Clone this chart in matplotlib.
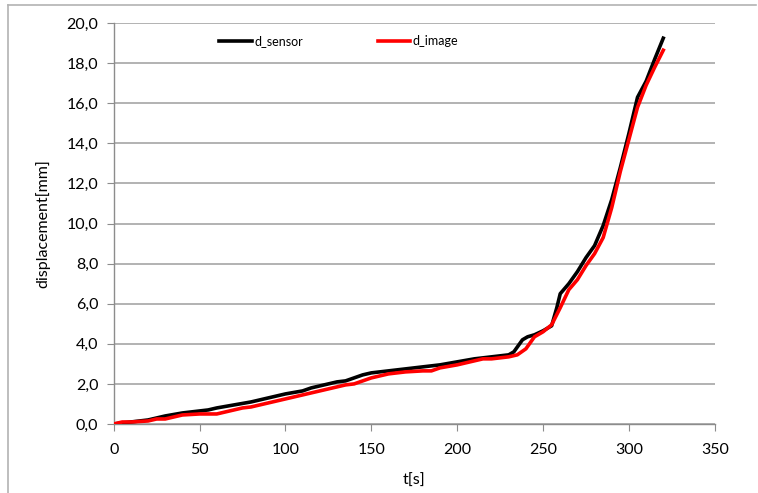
import matplotlib
matplotlib.use("Agg")
import matplotlib.pyplot as plt
from matplotlib.lines import Line2D
from matplotlib.ticker import FuncFormatter

# d_sensor (black)
t_sensor = [0, 10, 20, 30, 40, 50, 55, 60, 70, 80, 90, 100, 110, 115, 120, 130, 135,
            140, 145, 150, 160, 170, 180, 190, 200, 210, 220, 230, 233, 238, 241, 245,
            250, 255, 258, 260, 265, 270, 275, 280, 285, 290, 295, 300, 305, 310, 315, 320]
d_sensor = [0.0, 0.1, 0.2, 0.4, 0.55, 0.65, 0.7, 0.8, 0.95, 1.1, 1.3, 1.5, 1.65, 1.8,
            1.9, 2.1, 2.15, 2.3, 2.45, 2.55, 2.65, 2.75, 2.85, 2.95, 3.1, 3.25, 3.35,
            3.45, 3.6, 4.2, 4.35, 4.45, 4.65, 4.9, 5.8, 6.5, 7.0, 7.6, 8.3, 8.9, 9.9,
            11.2, 12.8, 14.5, 16.3, 17.1, 18.2, 19.25]

# d_image (red)
t_image = [0, 5, 10, 20, 25, 30, 40, 50, 60, 70, 75, 80, 90, 100, 110, 120, 130, 135,
           140, 145, 150, 160, 170, 180, 185, 190, 200, 210, 215, 220, 230, 235, 240,
           245, 250, 255, 260, 265, 270, 275, 280, 285, 290, 295, 300, 305, 310, 315, 320]
d_image = [0.0, 0.1, 0.1, 0.15, 0.25, 0.25, 0.45, 0.5, 0.5, 0.7, 0.8, 0.85, 1.05, 1.25,
           1.45, 1.65, 1.85, 1.95, 2.0, 2.15, 2.3, 2.5, 2.6, 2.65, 2.65, 2.8, 2.95,
           3.15, 3.25, 3.25, 3.35, 3.45, 3.75, 4.35, 4.6, 4.95, 5.8, 6.7, 7.2, 7.9,
           8.5, 9.3, 10.8, 12.6, 14.2, 15.8, 16.9, 17.8, 18.65]

plt.rcParams["font.family"] = ["Lato", "DejaVu Sans"]

fig = plt.figure(figsize=(7.58, 4.93), dpi=100)
ax = fig.add_axes([0.150, 0.140, 0.793, 0.813])

ax.plot(t_sensor, d_sensor, color="black", linewidth=2.6, label="d_sensor",
        solid_joinstyle="round", zorder=3)
ax.plot(t_image, d_image, color="#ff0000", linewidth=2.6, label="d_image",
        solid_joinstyle="round", zorder=3)

ax.set_xlim(0, 350)
ax.set_ylim(0, 20)
ax.set_xticks(range(0, 351, 50))
ax.set_yticks(range(0, 21, 2))
ax.yaxis.set_major_formatter(FuncFormatter(lambda v, p: f"{v:.1f}".replace(".", ",")))
ax.grid(axis="y", color="#a6a6a6", linewidth=1.2)
ax.set_axisbelow(True)

for side in ("top", "right"):
    ax.spines[side].set_visible(False)
for side in ("left", "bottom"):
    ax.spines[side].set_color("#8c8c8c")
    ax.spines[side].set_linewidth(1.0)
ax.tick_params(axis="both", direction="out", length=5, color="#8c8c8c",
               labelsize=11.5, pad=6)
ax.tick_params(axis="x", pad=9)

ax.set_xlabel("t[s]", fontsize=11.5, labelpad=12)
ax.set_ylabel("displacement[mm]", fontsize=11.5, labelpad=12)

fig.legend(loc="center", bbox_to_anchor=(0.447, 0.916), ncol=2, frameon=False,
           fontsize=9, handlelength=2.6, handletextpad=0.2, columnspacing=6.0)

# chart area border (partially visible in the reference)
fig.add_artist(Line2D([0.011, 0.997], [0.990, 0.990], color="#b3b3b3", linewidth=1.2,
                      transform=fig.transFigure))
fig.add_artist(Line2D([0.011, 0.011], [0.0, 0.990], color="#b3b3b3", linewidth=1.2,
                      transform=fig.transFigure))

fig.savefig("out.png", dpi=100)
